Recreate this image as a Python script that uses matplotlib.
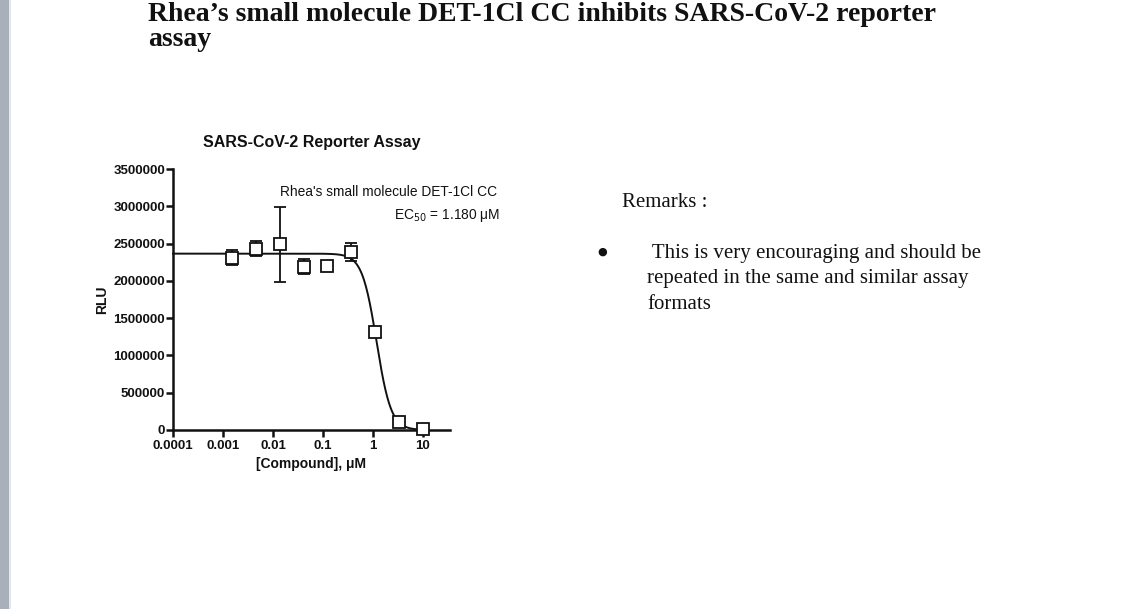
import numpy as np
import matplotlib
matplotlib.use("Agg")
import matplotlib.pyplot as plt
from matplotlib.patches import Rectangle

# ---- data ----
conc_uM = [0.00152, 0.00457, 0.0137, 0.0412, 0.123, 0.370, 1.11, 3.33, 10.0]
rlu_mean = [2310000, 2430000, 2490000, 2190000, 2200000, 2390000, 1310000, 110000, 20000]
rlu_err = [100000, 100000, 500000, 100000, 30000, 120000, 50000, 30000, 40000]
fit_top = 2365000
fit_bottom = 0
fit_ec50 = 1.180
fit_hill = 3.0
x_ticks = [0.0001, 0.001, 0.01, 0.1, 1, 10]
x_ticklabels = ["0.0001", "0.001", "0.01", "0.1", "1", "10"]
y_ticks = [0, 500000, 1000000, 1500000, 2000000, 2500000, 3000000, 3500000]

W, H = 1125, 609
fig = plt.figure(figsize=(W / 100, H / 100), dpi=100)
fig.patch.set_facecolor("white")

# left gray strip
fig.patches.append(Rectangle((0, 0), 9 / W, 1, transform=fig.transFigure,
                             facecolor="#aab0b9", edgecolor="none", zorder=0))
fig.patches.append(Rectangle((9 / W, 0), 1.5 / W, 1, transform=fig.transFigure,
                             facecolor="#e4e8ec", edgecolor="none", zorder=0))

serif = "Liberation Serif"
sans = "Liberation Sans"
ink = "#111111"

def fx(px):
    return px / W

def fy(py):
    return 1 - py / H

# slide title
fig.text(fx(148), fy(21), "Rhea\u2019s small molecule DET-1Cl CC inhibits SARS-CoV-2 reporter",
         family=serif, weight="bold", fontsize=20, ha="left", va="baseline", color=ink)
fig.text(fx(148), fy(46), "assay", family=serif, weight="bold", fontsize=20,
         ha="left", va="baseline", color=ink)

# remarks
fig.text(fx(622), fy(207), "Remarks :", family=serif, fontsize=15, ha="left",
         va="baseline", color=ink)
fig.text(fx(602), fy(252), "\u25cf", family=["DejaVu Sans"], fontsize=8, ha="center",
         va="center", color=ink)
rem_lines = [" This is very encouraging and should be",
             "repeated in the same and similar assay",
             "formats"]
for i, line in enumerate(rem_lines):
    fig.text(fx(647), fy(258 + 25.5 * i), line, family=serif, fontsize=15,
             ha="left", va="baseline", color=ink)

# chart axes
ax_left, ax_right, ax_top, ax_bottom = 173, 450, 169, 430
ax = fig.add_axes([fx(ax_left), fy(ax_bottom), (ax_right - ax_left) / W,
                   (ax_bottom - ax_top) / H])
ax.set_xscale("log")
ax.set_xlim(1e-4, 10 ** 1.54)
ax.set_ylim(0, 3500000)

xs = np.logspace(-4, 1, 400)
ys = fit_bottom + (fit_top - fit_bottom) / (1 + (xs / fit_ec50) ** fit_hill)
ax.plot(xs, ys, color=ink, lw=1.4, zorder=2, clip_on=False)

ax.errorbar(conc_uM, rlu_mean, yerr=rlu_err, fmt="s", ms=9, mfc="white",
            mec=ink, mew=1.3, ecolor=ink, elinewidth=1.3, capsize=4,
            capthick=1.3, zorder=3, clip_on=False)

for s in ["top", "right"]:
    ax.spines[s].set_visible(False)
for s in ["left", "bottom"]:
    ax.spines[s].set_linewidth(1.8)
    ax.spines[s].set_color(ink)

ax.set_xticks(x_ticks)
ax.set_xticklabels(x_ticklabels)
ax.xaxis.set_minor_locator(matplotlib.ticker.NullLocator())
ax.set_yticks(y_ticks)
ax.set_yticklabels([str(v) for v in y_ticks])
ax.tick_params(axis="both", which="major", length=5, width=1.8, color=ink,
               labelsize=9.5, labelcolor=ink)
ax.tick_params(axis="y", pad=0.8)
ax.tick_params(axis="x", pad=2)
for lab in ax.get_xticklabels() + ax.get_yticklabels():
    lab.set_family(sans)
    lab.set_weight("bold")

ax.set_xlabel("[Compound], \u03bcM", family=sans, weight="bold", fontsize=10,
              labelpad=4, color=ink)
ax.set_ylabel("RLU", family=sans, weight="bold", fontsize=10, labelpad=3, color=ink)
ax.set_title("SARS-CoV-2 Reporter Assay", family=sans, weight="bold",
             fontsize=11.5, pad=16, color=ink)

fig.text(fx(497), fy(192), "Rhea's small molecule DET-1Cl CC", family=sans,
         fontsize=9.9, ha="right", va="center", color=ink)
fig.text(fx(500), fy(216), "EC$_{50}$ = 1.180 \u03bcM", family=sans,
         fontsize=9.9, ha="right", va="center", color=ink)

fig.savefig("out.png", dpi=100, facecolor="white")
